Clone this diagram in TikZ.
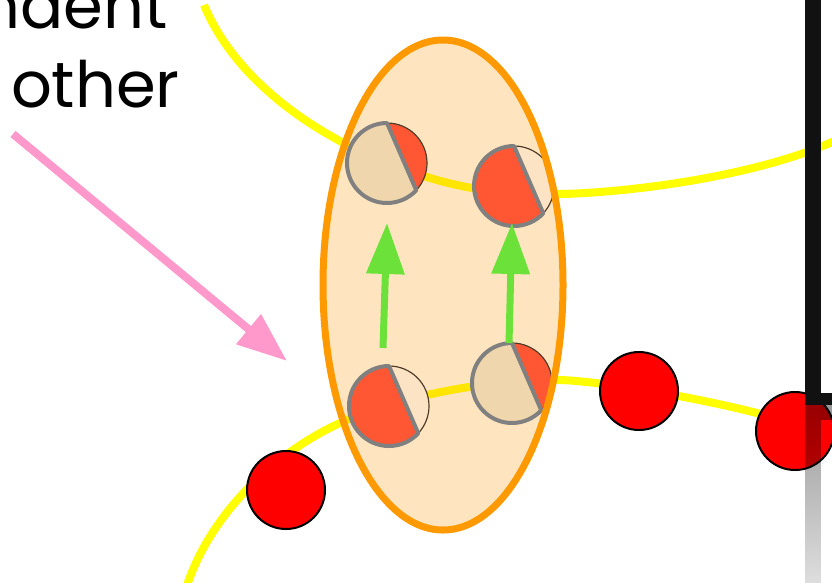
\documentclass[tikz,border=0pt]{standalone}
\usepackage{fontspec}
\setmainfont{Poppins}
\usetikzlibrary{arrows.meta,fadings}
\definecolor{yel}{RGB}{255,255,0}
\definecolor{ellorange}{RGB}{255,153,0}
\definecolor{balltan}{RGB}{240,214,172}
\definecolor{ballred}{RGB}{255,87,51}
\definecolor{balllight}{RGB}{251,227,195}
\definecolor{ballgray}{RGB}{128,128,128}
\definecolor{ballthin}{RGB}{80,60,40}
\definecolor{pinkarr}{RGB}{255,153,204}
\definecolor{greenarr}{RGB}{108,225,58}
\definecolor{lineblack}{RGB}{17,17,17}
\tikzfading[name=shfade, top color=transparent!60, bottom color=transparent!88]
\newcommand{\hball}[3]{%
  \fill[#3] (#1) ++(-90:40) arc[start angle=-90,end angle=43,radius=40] -- cycle;
  \draw[ballthin, line width=1.2pt] (#1) ++(-90:40) arc[start angle=-90,end angle=43,radius=40];
  \filldraw[fill=#2, draw=ballgray, line width=4pt, line join=round]
    (#1) ++(-90:40) arc[start angle=-90,end angle=-317,radius=40] -- cycle;
}
\begin{document}
\begin{tikzpicture}[x=1pt,y=-1pt,
  yelline/.style={yel, line width=8pt},
  redball/.style={circle, fill=red, draw=black, line width=2pt, minimum size=78pt, inner sep=0pt},
  greenarrow/.style={greenarr, line width=7pt, -{Triangle[length=51pt,width=37pt]}},
  pinkarrow/.style={pinkarr, line width=8pt, -{Triangle[length=50pt,width=37pt]}},
  txt/.style={font=\fontsize{64}{72}\selectfont, text=black, inner sep=0pt}]
\useasboundingbox (0,0) rectangle (832,582);
\clip (0,0) rectangle (832,582);
% yellow curves
\draw[yelline] (204,5) .. controls (235,80) and (320,145) .. (430,178)
  .. controls (480,193) and (525,195) .. (560,194)
  .. controls (620,193) and (760,178) .. (845,136);
\draw[yelline] (184,595) .. controls (205,520) and (270,455) .. (340,423)
  .. controls (400,395) and (500,378) .. (560,380)
  .. controls (600,381) and (720,400) .. (800,425);
% ellipse fill (semi-transparent)
\coordinate (ec) at (443,285);
\fill[ellorange, fill opacity=0.25] (ec) ellipse [x radius=120, y radius=245];
% half-coloured balls
\coordinate (b1) at (387,163);
\coordinate (b2) at (514,186);
\coordinate (b3) at (389,406);
\coordinate (b4) at (512,383);
\hball{b1}{balltan}{ballred}
\hball{b2}{ballred}{balllight}
\hball{b3}{ballred}{balllight}
\hball{b4}{balltan}{ballred}
% ellipse border
\draw[ellorange, line width=7pt] (ec) ellipse [x radius=120, y radius=245];
% red balls
\node[redball] (r1) at (286,490) {};
\node[redball] (r2) at (639,391) {};
\node[redball] (r3) at (795,431) {};
% green arrows
\coordinate (g1s) at (383,348);
\coordinate (g1e) at (387,223);
\coordinate (g2s) at (509,343);
\coordinate (g2e) at (512,223);
\draw[greenarrow] (g1s) -- (g1e);
\draw[greenarrow] (g2s) -- (g2e);
% pink arrow
\coordinate (ps) at (13,134);
\coordinate (pe) at (287,361);
\draw[pinkarrow] (ps) -- (pe);
% black L line
\fill[lineblack] (805,-5) rectangle (821,405);
\fill[lineblack] (805,393) rectangle (840,405);
% shadow
\fill[black, path fading=shfade] (805,405) rectangle (821,590);
\fill[black, fill opacity=0.4] (821,405) rectangle (840,420);
% text
\node[txt, anchor=base east] (t1) at (168,28) {endent};
\node[txt, anchor=base east] (t2) at (180,107) {other};
\end{tikzpicture}
\end{document}
